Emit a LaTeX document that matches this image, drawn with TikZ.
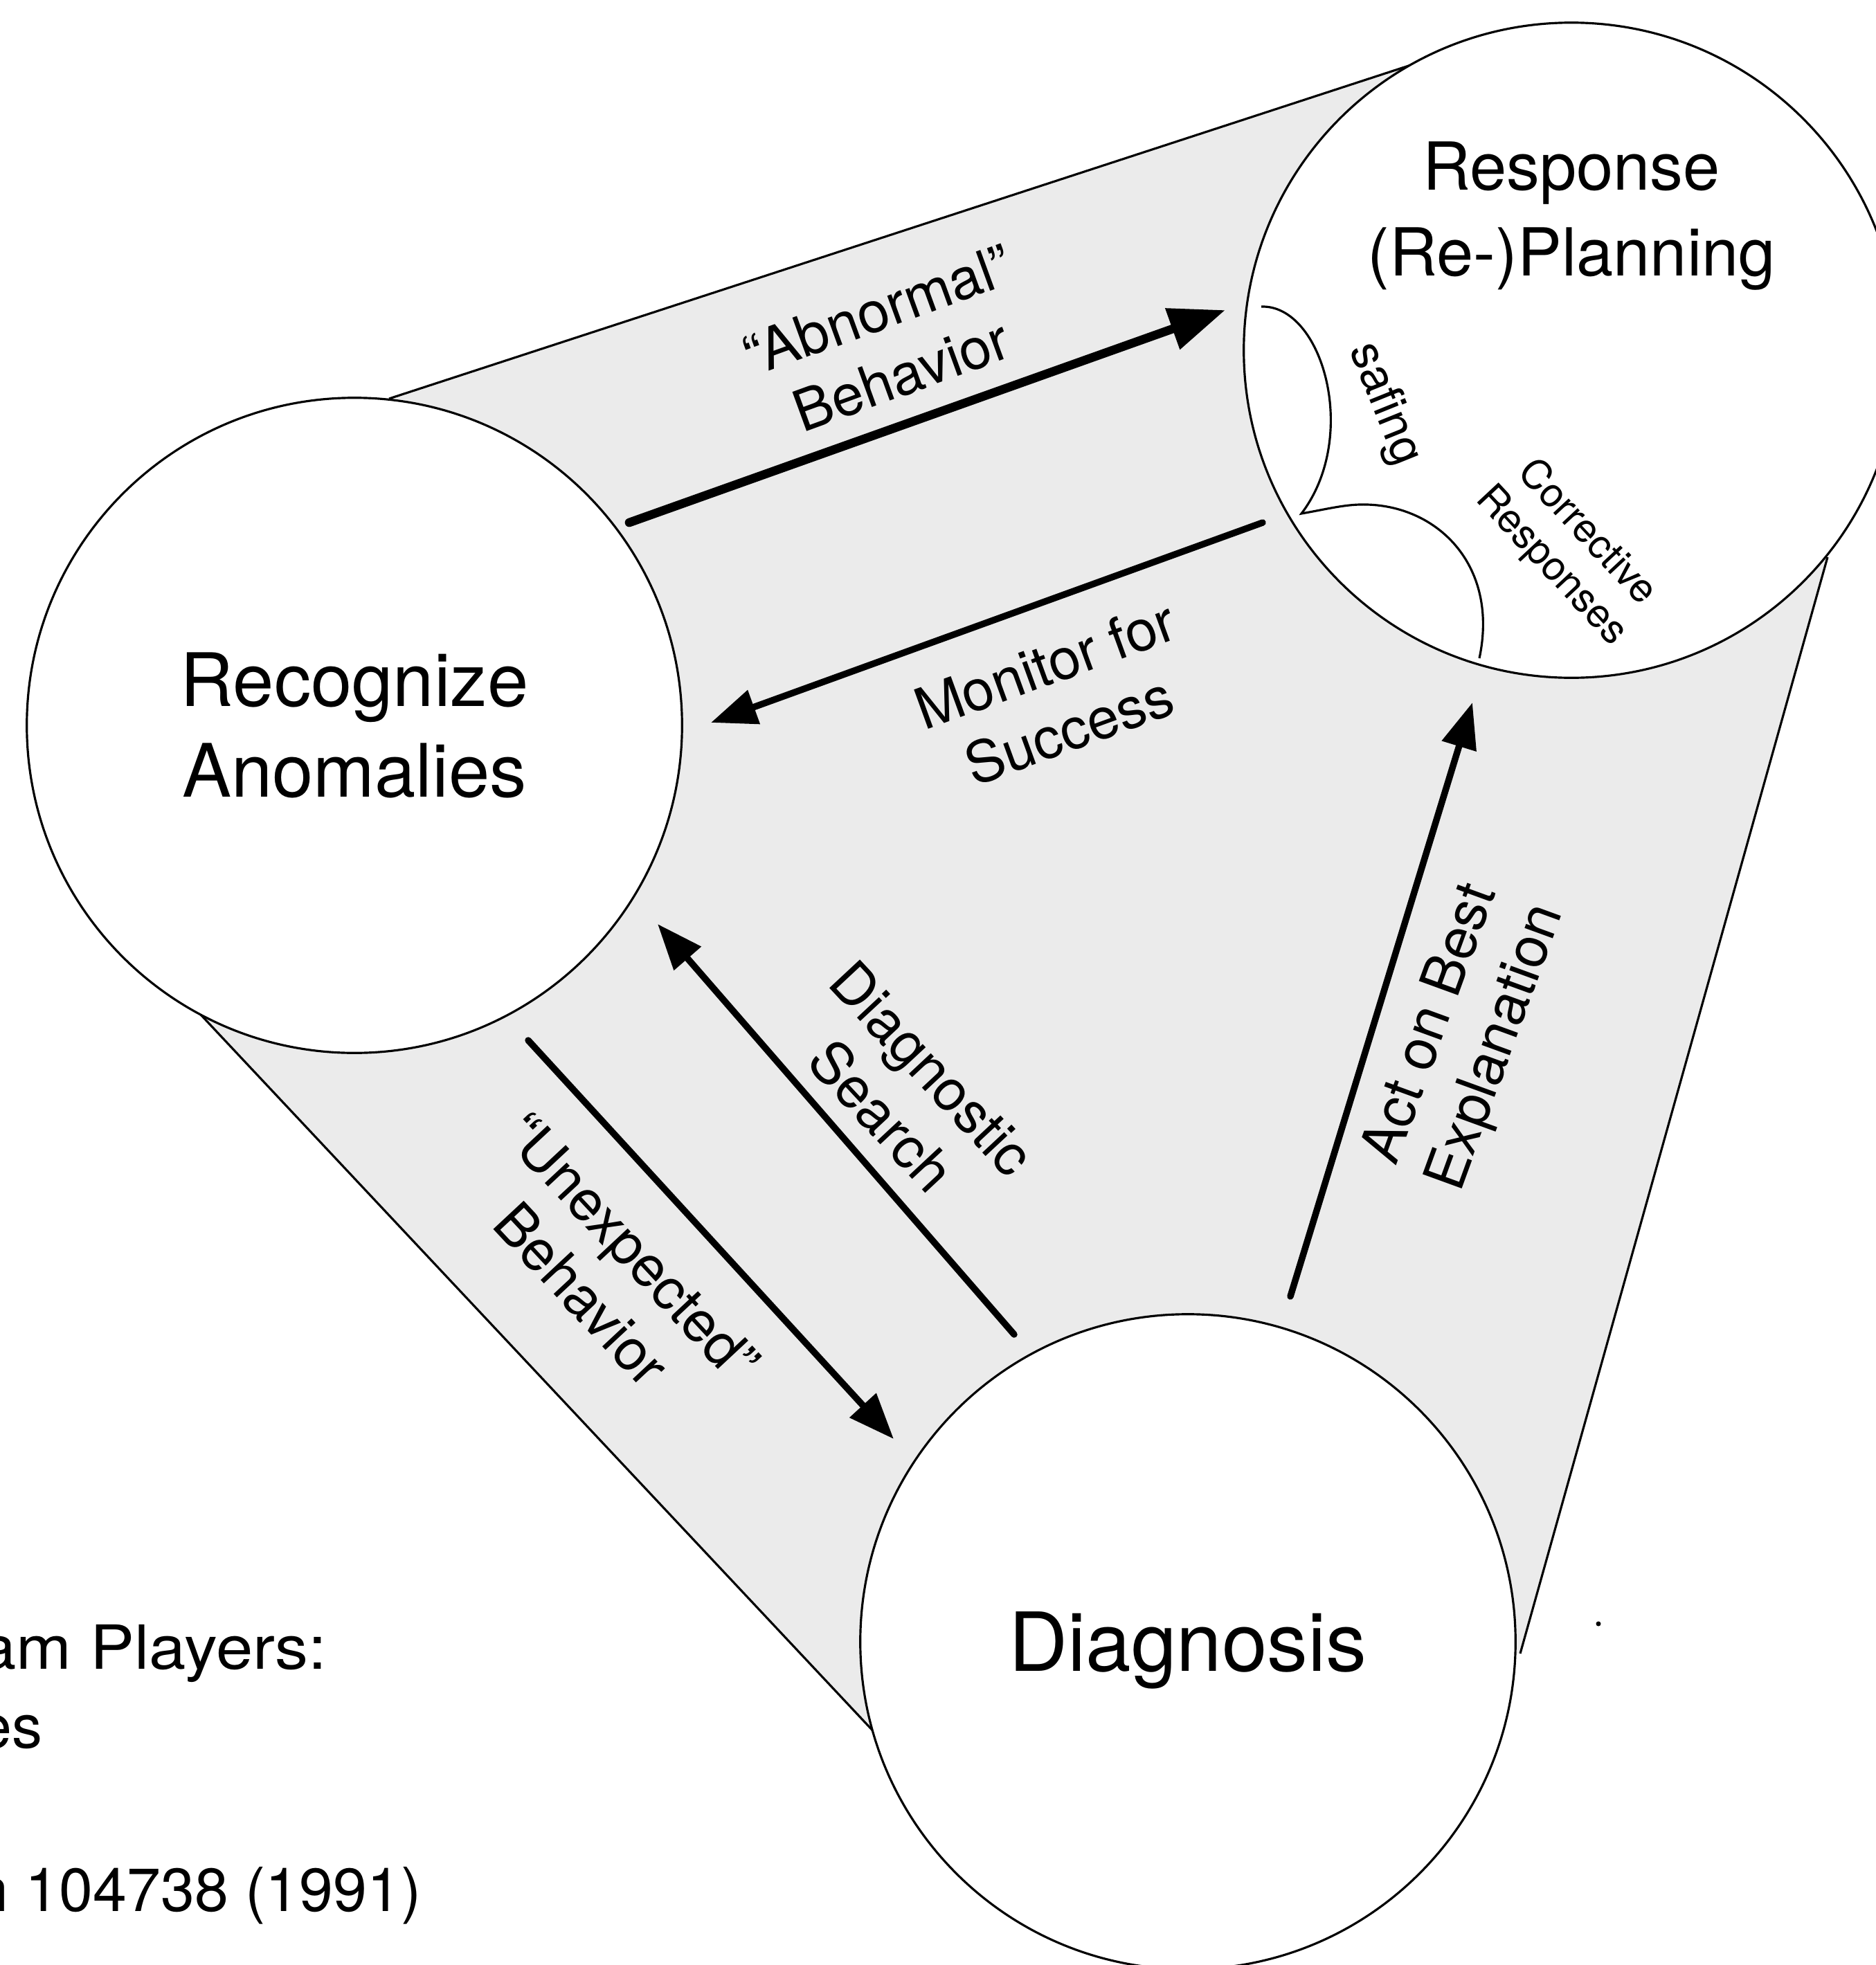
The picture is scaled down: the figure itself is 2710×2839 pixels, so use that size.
\documentclass[tikz,border=0pt]{standalone}
\usepackage{fontspec}
\setmainfont{TeX Gyre Heros}
\usetikzlibrary{arrows.meta}
\definecolor{hullgray}{RGB}{235,235,235}

\begin{document}
\begin{tikzpicture}[x=0.01cm,y=-0.01cm,line width=0.9pt,
                    phase node/.style={circle,draw,fill=white,minimum size=9.46cm,inner sep=0pt,align=center},
                    flow/.style={-{Triangle[length=0.66cm,width=0.5cm]},line width=2.7pt,line cap=round},
                    flow label/.style={align=center,font=\fontsize{23.5}{28.5}\selectfont},
                    note/.style={anchor=base east,inner sep=0pt,font=\fontsize{25}{30}\selectfont}]
    \useasboundingbox (0,0) rectangle (2710,2839);
    \clip (0,0) rectangle (2710,2839);

    % shaded band joining the three phases
    \coordinate (t1) at (562,576);   \coordinate (t2) at (2041,93);
    \coordinate (r1) at (2640,805);  \coordinate (r2) at (2196,2389);
    \coordinate (l1) at (290,1466);  \coordinate (l2) at (1267,2507);
    \fill[hullgray] (t1) -- (t2) -- (2270,506) -- (r1) -- (r2) -- (1716,2372)
        -- (l2) -- (l1) -- (512,1048) -- cycle;
    \draw (t1) -- (t2);
    \draw (r1) -- (r2);
    \draw (l1) -- (l2);

    \node[phase node,font=\fontsize{30.3}{37}\selectfont] (RA) at (512,1048) {Recognize\\Anomalies};
    \node[phase node] (RP) at (2270,506) {};
    \node[phase node,font=\fontsize{33.5}{38}\selectfont,text depth=0pt] (DG) at (1716,2372) {Diagnosis};
    \node[align=center,font=\fontsize{27.2}{35.5}\selectfont] (RPtext) at (2270,312) {Response\\(Re-)Planning};

    % split inside the response circle
    \draw (1822,443) .. controls (1910,440) and (1965,630) .. (1880,742)
          .. controls (1920,735) and (1945,728) .. (1975,729)
          .. controls (2080,732) and (2165,820) .. (2137,951);
    \node[rotate=-68,font=\fontsize{19.5}{23}\selectfont] (safe) at (2000,584) {safing};
    \node[rotate=-47,align=center,font=\fontsize{16.5}{20}\selectfont] (corr) at (2266,794) {Corrective\\Responses};

    \coordinate (ab0) at (909,755);   \coordinate (ab1) at (1770,448);
    \coordinate (mo0) at (1824,755);  \coordinate (mo1) at (1027,1044);
    \coordinate (ds0) at (1465,1928); \coordinate (ds1) at (950,1335);
    \coordinate (ub0) at (763,1503);  \coordinate (ub1) at (1291,2079);
    \coordinate (ac0) at (1864,1873); \coordinate (ac1) at (2127,1015);

    \draw[flow,line width=3.6pt,-{Triangle[length=0.81cm,width=0.6cm]}] (ab0) -- (ab1);
    \path[flow]
        (mo0)
        edge (mo1)

        (ds0)
        edge (ds1)

        (ub0)
        edge (ub1)

        (ac0)
        edge (ac1)
        ;

    \node[flow label,rotate=20] (ablab) at (1285,495) {“Abnormal”\\Behavior};
    \node[flow label,rotate=20] (molab) at (1527,1008) {Monitor for\\Success};
    \node[flow label,rotate=-47] (dslab) at (1310,1578) {Diagnostic\\Search};
    \node[flow label,rotate=-47] (ublab) at (877,1836) {“Unexpected”\\Behavior};
    \node[flow label,rotate=70] (aclab) at (2116,1497) {Act on Best\\Explanation};

    \node[note,xscale=1.09,transform shape] (cite1) at (474,2411) {am Players:};
    \node[note] (cite2) at (63,2525) {es};
    \node[note] (cite3) at (610,2761) {n 104738 (1991)};

    \fill (2309,2346) circle[radius=1pt];
\end{tikzpicture}
\end{document}
